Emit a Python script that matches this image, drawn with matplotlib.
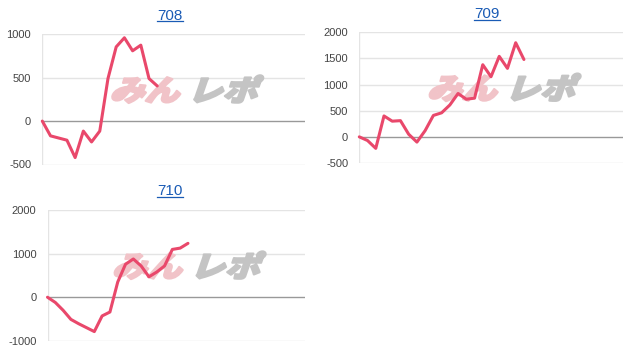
import matplotlib
matplotlib.use("Agg")
import matplotlib.pyplot as plt
from matplotlib.textpath import TextPath
from matplotlib.patches import PathPatch
from matplotlib.font_manager import FontProperties
from matplotlib.transforms import Affine2D
from matplotlib.lines import Line2D

# 差枚推移（台番号ごと）
names = ["708", "709", "710"]
diff_708 = [0, -170, -195, -220, -420, -115, -240, -115, 490, 855, 960, 810, 875, 490, 405]
diff_709 = [0, -70, -220, 400, 300, 310, 50, -100, 120, 410, 460, 610, 830, 720, 740,
            1380, 1150, 1540, 1310, 1800, 1480]
diff_710 = [0, -120, -300, -510, -610, -700, -790, -430, -340, 350, 760, 880, 720, 470,
            580, 720, 1100, 1130, 1240]
yticks_708 = [-500, 0, 500, 1000]
yticks_709 = [-500, 0, 500, 1000, 1500, 2000]
yticks_710 = [-1000, 0, 1000, 2000]
xmax = [32, 32, 33]

W, H = 630, 352
LINE = "#e9486b"
LINK = "#1a5bb5"

# 枠の位置（ピクセル: left, top, right, bottom）とタイトル位置
rects = [(42.3, 34.3, 305, 164.5), (359.3, 32.3, 622.7, 163), (47.5, 210.3, 305, 340.7)]
title_pos = [(170, 15.5), (487, 14), (170, 191)]

fig = plt.figure(figsize=(W / 100, H / 100), dpi=100)
jp = FontProperties(family="Noto Sans CJK JP", weight="black")


def watermark(ax):
    # みんレポ ロゴ（斜体風）
    bb = ax.get_position()
    cx = (bb.x0 + bb.width * 0.545) * W
    cy = (bb.y0 + bb.height * 0.57) * H
    size = 29
    parts = [("みん", "#f1c3c8", -76), ("レポ", "#c4c4c4", 2)]
    for txt, col, dx in parts:
        tp = TextPath((0, 0), txt, size=1, prop=jp)
        tr = (Affine2D().skew_deg(16, 0).scale(size * 1.2, size)
              .translate(cx + dx, cy - size * 0.36)
              + Affine2D().scale(1 / 100) + fig.dpi_scale_trans)
        ax.add_artist(PathPatch(tp, facecolor=col, edgecolor=col, lw=1.6,
                                joinstyle="round", transform=tr, zorder=1.5))


series = [diff_708, diff_709, diff_710]
ticks = [yticks_708, yticks_709, yticks_710]
titles = []
for i, (vals, yt) in enumerate(zip(series, ticks)):
    l, t, r, b = rects[i]
    ax = fig.add_axes([l / W, 1 - b / H, (r - l) / W, (b - t) / H])
    for s in ax.spines.values():
        s.set_visible(False)
    ax.set_xlim(0, xmax[i])
    ax.set_ylim(yt[0], yt[-1])
    ax.set_xticks([])
    ax.set_yticks(yt)
    ax.set_yticklabels([str(v) for v in yt], fontsize=8, color="#444444",
                       family="Liberation Sans")
    ax.tick_params(axis="y", length=0, pad=8)
    for v in yt:
        ax.axhline(v, color="#999999" if v == 0 else "#e4e4e4", lw=1, zorder=1)
    ax.axvline(0, color="#e4e4e4", lw=1, zorder=1)
    watermark(ax)
    ax.plot(range(len(vals)), vals, color=LINE, lw=2.2, solid_joinstyle="round",
            solid_capstyle="round", zorder=3, clip_on=False)

    tx, ty = title_pos[i]
    titles.append(fig.text(tx / W, 1 - ty / H, names[i], ha="center", va="center",
                           fontsize=11, color=LINK, family="Liberation Sans"))

# タイトルの下線
fig.canvas.draw()
rend = fig.canvas.get_renderer()
for tt in titles:
    bb = tt.get_window_extent(rend)
    y = (bb.y0 + 1.5) / H
    fig.add_artist(Line2D([bb.x0 / W, bb.x1 / W], [y, y], color=LINK, lw=0.9))

fig.savefig("out.png", dpi=100)
